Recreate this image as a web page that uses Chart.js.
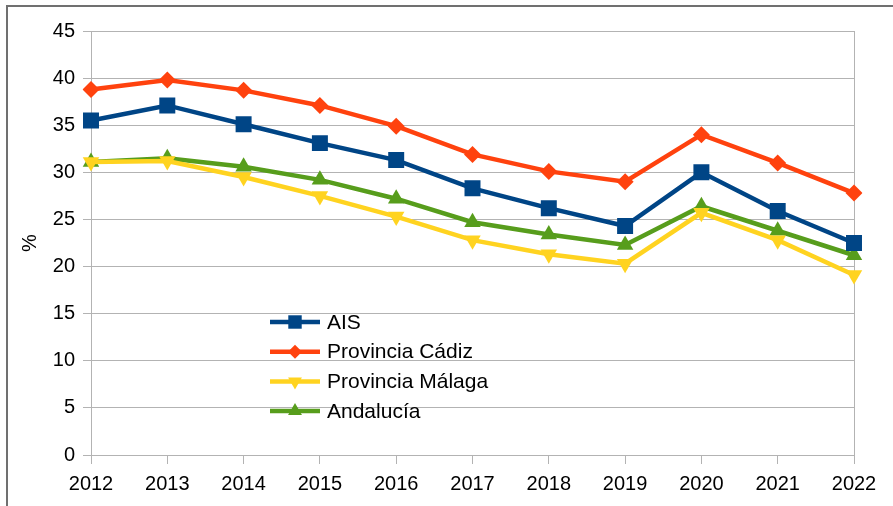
<!DOCTYPE html>
<html>
<head>
<meta charset="utf-8">
<script src="https://cdn.jsdelivr.net/npm/chart.js@4/dist/chart.umd.min.js"></script>
<style>
  html, body { margin: 0; padding: 0; background: #fff; overflow: hidden; }
  #wrap { position: relative; width: 893px; height: 506px; }
  #frame { position: absolute; left: 6px; top: 5px; width: 900px; height: 520px;
           border-left: 2px solid #707070; border-top: 2px solid #707070; box-sizing: border-box; }
  canvas { position: absolute; left: 0; top: 0; }
</style>
</head>
<body>
<div id="wrap">
  <div id="frame"></div>
  <canvas id="c" width="893" height="506"></canvas>
</div>
<script>
const years = ['2012','2013','2014','2015','2016','2017','2018','2019','2020','2021','2022'];
const seriesNames = ['AIS', 'Provincia Cádiz', 'Provincia Málaga', 'Andalucía'];
const ais      = [35.5, 37.1, 35.1, 33.1, 31.3, 28.3, 26.2, 24.3, 30.0, 25.9, 22.5];
const cadiz    = [38.8, 39.8, 38.7, 37.1, 34.9, 31.9, 30.1, 29.0, 34.0, 31.0, 27.8];
const malaga   = [31.1, 31.2, 29.5, 27.5, 25.3, 22.8, 21.3, 20.3, 25.7, 22.8, 19.1];
const andalucia= [31.1, 31.5, 30.6, 29.2, 27.2, 24.7, 23.4, 22.3, 26.4, 23.8, 21.2];
const yTicks = [0, 5, 10, 15, 20, 25, 30, 35, 40, 45];

const FONT = 'Liberation Sans, Arial, sans-serif';

const styles = [
  { color: '#004586', pointStyle: 'rect', radius: 11.3, rotation: 0 },
  { color: '#ff420e', pointStyle: 'rectRot', radius: 8.5, rotation: 0 },
  { color: '#ffd320', pointStyle: 'triangle', radius: 9.5, rotation: 180 },
  { color: '#579d1c', pointStyle: 'triangle', radius: 9.5, rotation: 0 }
];
const values = [ais, cadiz, malaga, andalucia];

const datasets = values.map((v, i) => ({
  label: seriesNames[i],
  data: v,
  borderColor: styles[i].color,
  backgroundColor: styles[i].color,
  borderWidth: 4.5,
  pointStyle: styles[i].pointStyle,
  pointRadius: styles[i].radius,
  pointRotation: styles[i].rotation,
  pointBorderWidth: 0,
  pointHoverRadius: styles[i].radius,
  tension: 0,
  fill: false
}));

const areaBorder = {
  id: 'areaBorder',
  beforeDatasetsDraw(chart) {
    const ctx = chart.ctx, a = chart.chartArea;
    ctx.save();
    ctx.strokeStyle = '#b3b3b3';
    ctx.lineWidth = 1;
    ctx.beginPath();
    ctx.moveTo(Math.round(a.right) + 0.5, a.top);
    ctx.lineTo(Math.round(a.right) + 0.5, a.bottom);
    ctx.stroke();
    ctx.restore();
  }
};

const legendPlugin = {
  id: 'legendPlugin',
  afterDatasetsDraw(chart) {
    const ctx = chart.ctx;
    const x0 = 270, x1 = 320, tx = 327, y0 = 322, dy = 29.7;
    ctx.save();
    chart.data.datasets.forEach((ds, i) => {
      const y = y0 + i * dy;
      ctx.strokeStyle = ds.borderColor;
      ctx.lineWidth = 4.5;
      ctx.beginPath();
      ctx.moveTo(x0, y);
      ctx.lineTo(x1, y);
      ctx.stroke();
      ctx.fillStyle = ds.backgroundColor;
      ctx.strokeStyle = ds.backgroundColor;
      const r = ds.pointStyle === 'rect' ? 9.5 : (ds.pointStyle === 'rectRot' ? 7 : 8);
      Chart.helpers.drawPoint(ctx, {
        pointStyle: ds.pointStyle,
        rotation: ds.pointRotation,
        radius: r,
        borderWidth: 0
      }, (x0 + x1) / 2, y);
      ctx.fillStyle = '#000';
      ctx.font = '21px ' + FONT;
      ctx.textBaseline = 'middle';
      ctx.textAlign = 'left';
      ctx.fillText(ds.label, tx, y + 1);
    });
    ctx.restore();
  }
};

new Chart(document.getElementById('c'), {
  type: 'line',
  data: { labels: years, datasets },
  options: {
    responsive: false,
    animation: false,
    devicePixelRatio: 1,
    layout: { padding: { left: 0, top: 31, right: 39, bottom: 0 } },
    plugins: {
      legend: { display: false },
      tooltip: { enabled: false },
      title: { display: false }
    },
    scales: {
      x: {
        type: 'category',
        offset: false,
        afterFit(scale) { scale.height = 51; },
        grid: { display: true, drawOnChartArea: false, drawTicks: true, tickLength: 9, color: '#b3b3b3' },
        border: { display: false },
        ticks: { color: '#000', font: { family: FONT, size: 20 }, padding: 8, maxRotation: 0, autoSkip: false }
      },
      y: {
        min: 0, max: 45,
        afterFit(scale) { scale.width = 91; },
        afterBuildTicks(scale) { scale.ticks = yTicks.map(v => ({ value: v })); },
        grid: { color: '#b3b3b3', lineWidth: 1, tickLength: 8, drawTicks: true },
        border: { display: true, color: '#b3b3b3' },
        ticks: { color: '#000', font: { family: FONT, size: 20 }, padding: 8 },
        title: { display: true, text: '%', color: '#000', font: { family: FONT, size: 20 }, padding: { top: 18, bottom: 0 } }
      }
    }
  },
  plugins: [areaBorder, legendPlugin]
});
</script>
</body>
</html>
